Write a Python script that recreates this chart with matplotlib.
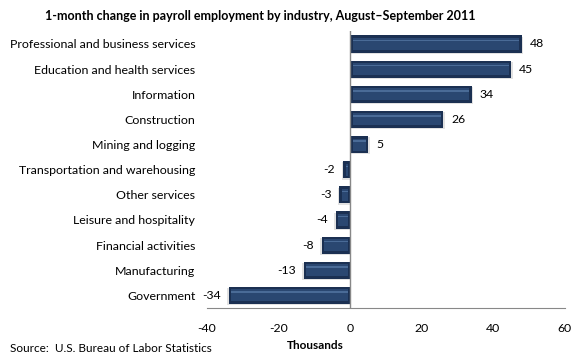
import matplotlib
matplotlib.use("Agg")
import matplotlib.pyplot as plt

industries = [
    "Professional and business services",
    "Education and health services",
    "Information",
    "Construction",
    "Mining and logging",
    "Transportation and warehousing",
    "Other services",
    "Leisure and hospitality",
    "Financial activities",
    "Manufacturing",
    "Government",
]
change = [48, 45, 34, 26, 5, -2, -3, -4, -8, -13, -34]
xticks = [-40, -20, 0, 20, 40, 60]

plt.rcParams["font.family"] = ["Lato", "DejaVu Sans"]

fig = plt.figure(figsize=(5.8, 3.63), dpi=100)
ax = fig.add_axes([0.357, 0.1515, 0.617, 0.762])

pos = list(range(len(industries)))
h = 0.68
# soft shadow, dark rim, face, highlight -> rough bevel look
ax.barh([p + 0.05 for p in pos], [v + (0.4 if v > 0 else -0.4) for v in change],
        height=h, color="#e2e2e2", zorder=1)
ax.barh(pos, change, height=h, color="#1b3052", zorder=2)
ins = 0.7
inner = [v - ins if v > 0 else v + ins for v in change]
left_in = [ins if v > 0 else -ins for v in change]
widths = [i - l for i, l in zip(inner, left_in)]
ax.barh(pos, widths, left=left_in, height=h * 0.7, color="#2a4771", zorder=3)
ax.barh([p - h * 0.2 for p in pos], widths, left=left_in,
        height=h * 0.08, color="#4a6b97", zorder=4)

for p, v in zip(pos, change):
    if v >= 0:
        ax.text(v + 2.2, p, str(v), va="center", ha="left", fontsize=8.8)
    else:
        ax.text(v - 2.2, p, str(v), va="center", ha="right", fontsize=8.8)

ax.set_xlim(-40, 60)
ax.set_ylim(len(industries) - 0.5, -0.5)
ax.set_xticks(xticks)
ax.set_xticklabels([str(t) for t in xticks], fontsize=8.8)
ax.set_yticks(pos)
ax.set_yticklabels(industries, fontsize=8.9)
ax.tick_params(axis="both", length=0)
ax.tick_params(axis="x", pad=11)
ax.tick_params(axis="y", pad=8.5)
for s in ["top", "right", "left"]:
    ax.spines[s].set_visible(False)
ax.spines["bottom"].set_color("#888888")
ax.axvline(0, color="#888888", lw=1, zorder=5)

fig.text(0.448, 0.955, "1-month change in payroll employment by industry, August\u2013September 2011",
         ha="center", va="center", fontsize=9, fontweight="bold")
fig.text(0.543, 0.047, "Thousands", ha="center", va="center", fontsize=8.5, fontweight="bold")
fig.text(0.017, 0.039, "Source:  U.S. Bureau of Labor Statistics", ha="left", va="center",
         fontsize=8.5)

fig.savefig("out.png", dpi=100)
